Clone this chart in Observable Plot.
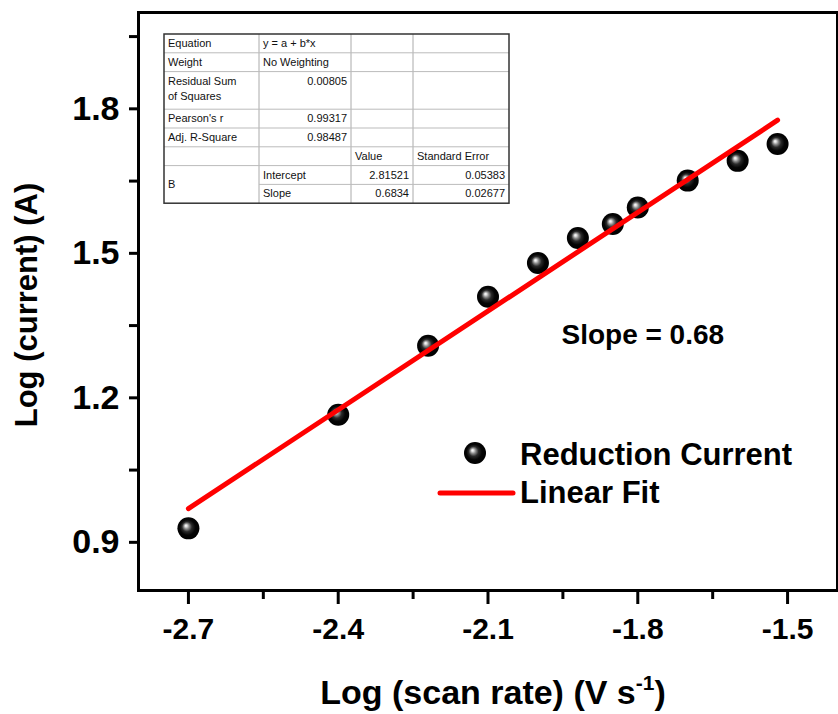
<!DOCTYPE html>
<html><head><meta charset="utf-8">
<script src="https://cdn.jsdelivr.net/npm/d3@7"></script>
<script src="https://cdn.jsdelivr.net/npm/@observablehq/plot@0.6"></script>
<style>
html,body{margin:0;padding:0;background:#fff;}
#chart svg{display:block;}
</style></head><body>
<div id="chart"></div>
<script>
// ---- data ----
const scanRate = [-2.7, -2.4, -2.22, -2.1, -2.0, -1.92, -1.85, -1.8, -1.7, -1.6, -1.52];
const logCurrent = [0.929, 1.165, 1.308, 1.41, 1.48, 1.532, 1.561, 1.595, 1.651, 1.692, 1.727];
const fitIntercept = 2.81521;
const fitSlope = 0.6834;
const fitRange = [-2.7, -1.52];
const xTicks = [-2.7, -2.4, -2.1, -1.8, -1.5];
const xTickLabels = ["-2.7", "-2.4", "-2.1", "-1.8", "-1.5"];
const xMinor = [-2.55, -2.25, -1.95, -1.65];
const yTicks = [0.9, 1.2, 1.5, 1.8];
const yTickLabels = ["0.9", "1.2", "1.5", "1.8"];
const yMinor = [1.05, 1.35, 1.65, 1.95];
const seriesNames = ["Reduction Current", "Linear Fit"];
const tableRows = [
  ["Equation", "y = a + b*x", "", ""],
  ["Weight", "No Weighting", "", ""],
  ["Residual Sum|of Squares", "0.00805", "", ""],
  ["Pearson's r", "0.99317", "", ""],
  ["Adj. R-Square", "0.98487", "", ""],
  ["", "", "Value", "Standard Error"],
  ["B", "Intercept", "2.81521", "0.05383"],
  ["", "Slope", "0.6834", "0.02677"]
];

const points = scanRate.map((x, i) => ({x, y: logCurrent[i]}));
const fitLine = fitRange.map(x => ({x, y: fitIntercept + fitSlope * x}));

const FONT = "'Liberation Sans', Arial, Helvetica, sans-serif";

const svg = Plot.plot({
  width: 838,
  height: 714,
  marginLeft: 138,
  marginRight: 1,
  marginTop: 12,
  marginBottom: 124,
  style: {fontFamily: FONT, background: "white", color: "black"},
  x: {domain: [-2.8, -1.4], label: null},
  y: {domain: [0.8, 2.0], label: null},
  marks: [
    Plot.dot(points, {x: "x", y: "y", r: 11, fill: "url(#ball)", stroke: "none"}),
    Plot.line(fitLine, {x: "x", y: "y", stroke: "#ff0000", strokeWidth: 5, strokeLinecap: "round"}),
    Plot.text(["Slope = 0.68"], {x: -1.79, y: 1.33, text: d => d, fontSize: 28, fontWeight: "bold", fill: "black"}),
    Plot.axisX({ticks: xTicks, tickSize: 14, tickPadding: 13, strokeWidth: 3,
      tickFormat: (d, i) => xTickLabels[xTicks.indexOf(d)], fontSize: 30, fontWeight: "bold", label: null}),
    Plot.axisX({ticks: xMinor, tickSize: 9, strokeWidth: 3, tickFormat: () => "", label: null}),
    Plot.axisY({ticks: yTicks, tickSize: 9, tickPadding: 10, strokeWidth: 3,
      tickFormat: d => yTickLabels[yTicks.indexOf(d)], fontSize: 34, fontWeight: "bold", label: null}),
    Plot.axisY({ticks: yMinor, tickSize: 9, strokeWidth: 3, tickFormat: () => "", label: null}),
    Plot.frame({stroke: "black", strokeWidth: 3})
  ]
});

document.getElementById("chart").appendChild(svg);
const s = d3.select(svg);

// gradient for the shiny ball markers
const defs = s.insert("defs", ":first-child");
const grad = defs.append("radialGradient").attr("id", "ball")
  .attr("cx", "50%").attr("cy", "50%").attr("r", "50%").attr("fx", "38%").attr("fy", "37%");
[["0%", "#ffffff"], ["10%", "#e0e0e0"], ["25%", "#8a8a8a"], ["45%", "#2a2a2a"], ["70%", "#050505"], ["100%", "#000000"]]
  .forEach(([o, c]) => grad.append("stop").attr("offset", o).attr("stop-color", c));

// axis titles
const xt = s.append("text").attr("x", 493).attr("y", 704).attr("text-anchor", "middle")
  .attr("font-family", FONT).attr("font-size", 34).attr("font-weight", "bold").attr("fill", "black");
xt.append("tspan").text("Log (scan rate) (V s");
xt.append("tspan").attr("font-size", 21).attr("dy", -14).text("-1");
xt.append("tspan").attr("dy", 14).text(")");

s.append("text").attr("transform", "translate(37,305) rotate(-90)").attr("text-anchor", "middle")
  .attr("font-family", FONT).attr("font-size", 31).attr("font-weight", "bold").attr("fill", "black")
  .text("Log (current) (A)");

// legend
const lg = s.append("g").attr("font-family", FONT).attr("font-size", 31).attr("font-weight", "bold")
  .attr("text-anchor", "start").attr("fill", "black");
lg.append("circle").attr("cx", 475).attr("cy", 453).attr("r", 11).attr("fill", "url(#ball)");
lg.append("text").attr("x", 520).attr("y", 465).text(seriesNames[0]);
lg.append("line").attr("x1", 440).attr("x2", 513).attr("y1", 493).attr("y2", 493)
  .attr("stroke", "#ff0000").attr("stroke-width", 5).attr("stroke-linecap", "round");
lg.append("text").attr("x", 520).attr("y", 503).text(seriesNames[1]);

// fit-results table
const tx = 164, ty = 34;
const colW = [95, 92, 62, 96];
const unit = 18.8;
const rowUnits = [1, 1, 2, 1, 1, 1, 1, 1];
const colX = [tx]; colW.forEach(w => colX.push(colX[colX.length - 1] + w));
const rowY = [ty]; rowUnits.forEach(u => rowY.push(rowY[rowY.length - 1] + u * unit));
const tg = s.append("g").attr("font-family", FONT).attr("font-size", 11).attr("fill", "#111")
  .attr("text-anchor", "start");
tg.append("rect").attr("x", tx).attr("y", ty).attr("width", colX[4] - tx).attr("height", rowY[8] - ty)
  .attr("fill", "white").attr("stroke", "none");
for (let c = 1; c < 4; c++) tg.append("line").attr("x1", colX[c]).attr("x2", colX[c]).attr("y1", ty).attr("y2", rowY[8])
  .attr("stroke", "#aaa").attr("stroke-width", 1);
for (let r = 1; r < 8; r++) tg.append("line").attr("x1", r === 7 ? colX[1] : tx).attr("x2", colX[4]).attr("y1", rowY[r]).attr("y2", rowY[r])
  .attr("stroke", "#bbb").attr("stroke-width", 1);
tg.append("rect").attr("x", tx).attr("y", ty).attr("width", colX[4] - tx).attr("height", rowY[8] - ty)
  .attr("fill", "none").attr("stroke", "#333").attr("stroke-width", 1.5);
const isNum = v => /^[0-9.]+$/.test(v);
tableRows.forEach((row, r) => {
  row.forEach((v, c) => {
    if (!v) return;
    if (r === 6 && c === 0) {
      tg.append("text").attr("x", colX[0] + 4).attr("y", (rowY[6] + rowY[8]) / 2 + 4).text(v);
      return;
    }
    v.split("|").forEach((ln, k) => {
      const num = isNum(ln);
      tg.append("text")
        .attr("x", num ? colX[c + 1] - 4 : colX[c] + 4)
        .attr("y", rowY[r] + 13 + k * 15)
        .attr("text-anchor", num ? "end" : "start")
        .text(ln);
    });
  });
});
</script>
</body></html>
